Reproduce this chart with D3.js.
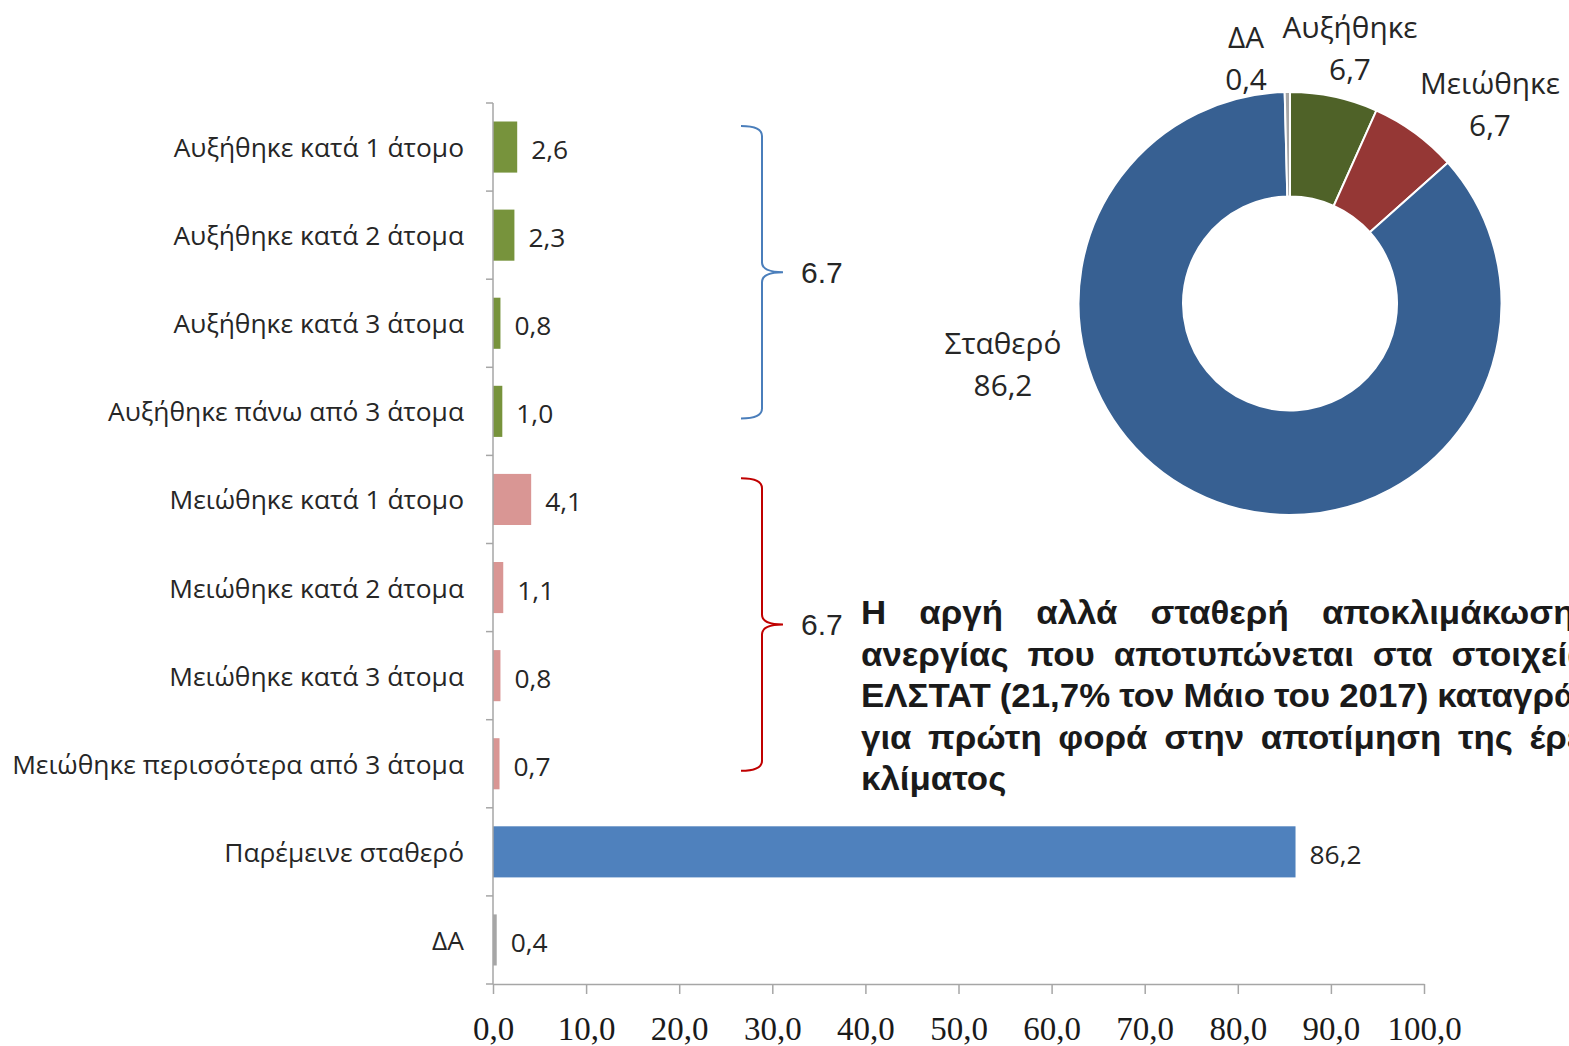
<!DOCTYPE html>
<html><head><meta charset="utf-8">
<script src="https://cdn.jsdelivr.net/npm/d3@7"></script>
<style>
html,body{margin:0;padding:0;background:#fff;overflow:hidden;}
svg{display:block;}
</style></head>
<body>
<svg id="chart" width="1569" height="1046"></svg>
<script>
// ---------------- DATA ----------------
const categories = [
  "Αυξήθηκε κατά 1 άτομο",
  "Αυξήθηκε κατά 2 άτομα",
  "Αυξήθηκε κατά 3 άτομα",
  "Αυξήθηκε πάνω από 3 άτομα",
  "Μειώθηκε κατά 1 άτομο",
  "Μειώθηκε κατά 2 άτομα",
  "Μειώθηκε κατά 3 άτομα",
  "Μειώθηκε περισσότερα από 3 άτομα",
  "Παρέμεινε σταθερό",
  "ΔΑ"
];
const values = [2.6, 2.3, 0.8, 1.0, 4.1, 1.1, 0.8, 0.7, 86.2, 0.4];
const groups = ["inc","inc","inc","inc","dec","dec","dec","dec","stable","na"];
const xTicks = [0,10,20,30,40,50,60,70,80,90,100];

const pieLabels = ["Αυξήθηκε","Μειώθηκε","Σταθερό","ΔΑ"];
const pieValues = [6.7, 6.7, 86.2, 0.4];

const braceGroups = ["inc","dec"];
const braceLabels = ["6.7","6.7"];

const noteLines = [
  "Η αργή αλλά σταθερή αποκλιμάκωση της",
  "ανεργίας που αποτυπώνεται στα στοιχεία της",
  "ΕΛΣΤΑΤ (21,7% τον Μάιο του 2017) καταγράφεται",
  "για πρώτη φορά στην αποτίμηση της έρευνας",
  "κλίματος"
];

// ---------------- STYLE / LAYOUT ----------------
const barColors = {inc:"#77933C", dec:"#D99694", stable:"#4F81BD", na:"#A6A6A6"};
const pieColors = ["#4F6228","#953735","#376092","#A6A6A6"];
const braceColors = {inc:"#4A7EBB", dec:"#C00000"};
const textColor = "#262626";
const axisColor = "#A6A6A6";
const labelFont = "'Open Sans', 'Noto Sans', sans-serif";

const svg = d3.select("#chart");

// text measurement helper
const meas = svg.append("text").attr("x",-9999).attr("y",-9999);
function textW(str, font, size, weight){
  meas.attr("font-family",font).attr("font-size",size).attr("font-weight",weight||"normal").text(str);
  return meas.node().getComputedTextLength();
}
// calibrate category-label font so the longest label spans like the reference
const longest = categories.reduce((a,b)=>a.length>b.length?a:b);
const labelSize = 100 * 452 / textW(longest, labelFont, 100);

// ---------------- BAR CHART ----------------
const x = d3.scaleLinear().domain([0,100]).range([493,1424]);
const y = d3.scaleBand().domain(categories).range([103,984]).paddingInner(0.42).paddingOuter(0.21);
const step = y.step();

const bars = svg.append("g");
bars.selectAll("rect").data(categories).join("rect")
  .attr("x", x(0))
  .attr("y", d=>y(d))
  .attr("width", (d,i)=>x(values[i]) - x(0))
  .attr("height", y.bandwidth())
  .attr("fill", (d,i)=>barColors[groups[i]]);

// y axis line & ticks
const yAxisG = svg.append("g");
yAxisG.append("line").attr("x1",x(0)).attr("x2",x(0)).attr("y1",y.range()[0]).attr("y2",y.range()[1])
  .attr("stroke",axisColor).attr("stroke-width",1.5);
yAxisG.selectAll("line.tk").data(d3.range(categories.length+1)).join("line").attr("class","tk")
  .attr("x1",x(0)-7).attr("x2",x(0))
  .attr("y1",i=>y.range()[0]+i*step).attr("y2",i=>y.range()[0]+i*step)
  .attr("stroke",axisColor).attr("stroke-width",1.5);

// category labels
svg.append("g").selectAll("text").data(categories).join("text")
  .attr("x", x(0)-29)
  .attr("y", d=>y(d)+y.bandwidth()/2)
  .attr("text-anchor","end").attr("dominant-baseline","central")
  .attr("font-family",labelFont).attr("font-size",labelSize).attr("fill",textColor)
  .text(d=>d);

// value labels
const fmt = v => d3.format(".1f")(v).replace(".",",");
svg.append("g").selectAll("text").data(categories).join("text")
  .attr("x", (d,i)=>x(values[i])+14)
  .attr("y", d=>y(d)+y.bandwidth()/2+2)
  .attr("dominant-baseline","central")
  .attr("font-family",labelFont).attr("font-size",labelSize).attr("fill",textColor)
  .text((d,i)=>fmt(values[i]));

// x axis
const xAxis = d3.axisBottom(x).tickValues(xTicks).tickSize(10).tickSizeOuter(0)
  .tickFormat(d=>d3.format(".1f")(d).replace(".",","));
const xg = svg.append("g").attr("transform",`translate(0,${y.range()[1]})`).call(xAxis);
xg.select(".domain").attr("stroke",axisColor).attr("stroke-width",1.5);
xg.selectAll(".tick line").attr("stroke",axisColor).attr("stroke-width",1.5);
xg.selectAll(".tick text").attr("font-family","'Liberation Serif', 'DejaVu Serif', serif")
  .attr("font-size",33).attr("fill","#1a1a1a").attr("dy",0).attr("y",56);

// ---------------- BRACES ----------------
braceGroups.forEach((g,k)=>{
  const idx = groups.map((gg,i)=>gg===g?i:-1).filter(i=>i>=0);
  const first = categories[idx[0]], last = categories[idx[idx.length-1]];
  const top = y(first) - y.paddingInner()*step/2 + 0.26*step;
  const bot = y(last) + y.bandwidth() + y.paddingInner()*step/2 - 0.42*step;
  const mid = (top+bot)/2;
  const x0 = 741, x1 = 762, x2 = 783, r = 10;
  const p = d3.path();
  p.moveTo(x0,top); p.quadraticCurveTo(x1,top,x1,top+r);
  p.lineTo(x1,mid-r); p.quadraticCurveTo(x1,mid,x2,mid);
  p.moveTo(x2,mid); p.quadraticCurveTo(x1,mid,x1,mid+r);
  p.lineTo(x1,bot-r); p.quadraticCurveTo(x1,bot,x0,bot);
  svg.append("path").attr("d",p.toString()).attr("fill","none")
    .attr("stroke",braceColors[g]).attr("stroke-width",2);
  svg.append("text").attr("x",801).attr("y",mid).attr("dominant-baseline","central")
    .attr("font-family","'Liberation Sans', Arial, sans-serif").attr("font-size",30)
    .attr("fill",textColor).text(braceLabels[k]);
});

// ---------------- DONUT ----------------
const cx = 1290, cy = 303.5, rOut = 211.5, rIn = 107;
const pie = d3.pie().sort(null).value(d=>d);
const arc = d3.arc().innerRadius(rIn).outerRadius(rOut);
const dg = svg.append("g").attr("transform",`translate(${cx},${cy})`);
dg.selectAll("path").data(pie(pieValues)).join("path")
  .attr("d",arc).attr("fill",(d,i)=>pieColors[i])
  .attr("stroke","#fff").attr("stroke-width",2);

// label anchors (relative to donut centre), in the order of pieLabels
const pieLabelOffsets = [[60,-256.5],[200,-200],[-287,59.5],[-44,-246]];
const pieLabelSize = labelSize*1.13;
pieLabels.forEach((name,i)=>{
  const [dx,dy] = pieLabelOffsets[i];
  const t = dg.append("text").attr("text-anchor","middle")
    .attr("font-family",labelFont).attr("font-size",pieLabelSize).attr("fill",textColor);
  t.append("tspan").attr("x",dx).attr("y",dy-21).attr("dominant-baseline","central").text(name);
  t.append("tspan").attr("x",dx).attr("y",dy+21).attr("dominant-baseline","central").text(fmt(pieValues[i]));
});

// ---------------- NOTE TEXT (bold, condensed, justified) ----------------
const noteFont = "'Liberation Sans', Arial, sans-serif";
const noteSize = 33;
// horizontal condensing so that line 3 up to "καταγρ" spans like the reference
const noteScale = 697 / textW("ΕΛΣΤΑΤ (21,7% τον Μάιο του 2017) καταγρ", noteFont, noteSize, "bold");
const spaceW = (textW("a b", noteFont, noteSize, "bold") - textW("ab", noteFont, noteSize, "bold"))*noteScale;
const boxW = textW(noteLines[2], noteFont, noteSize, "bold")*noteScale - 4;
const noteX = 861, noteY0 = 624, lineH = 41.5;
const ng = svg.append("g");
noteLines.forEach((line,li)=>{
  const words = line.split(" ");
  const ws = words.map(w=>textW(w, noteFont, noteSize, "bold")*noteScale);
  const justify = li < noteLines.length-1;
  const gap = justify ? (boxW - d3.sum(ws))/(words.length-1) : spaceW;
  let cxp = noteX;
  words.forEach((w,wi)=>{
    ng.append("text")
      .attr("transform",`translate(${cxp},${noteY0+li*lineH}) scale(${noteScale},1)`)
      .attr("font-family",noteFont).attr("font-weight","bold").attr("font-size",noteSize)
      .attr("fill","#1a1a1a").text(w);
    cxp += ws[wi] + Math.max(gap, spaceW*0.6);
  });
});
meas.remove();
</script>
</body></html>
